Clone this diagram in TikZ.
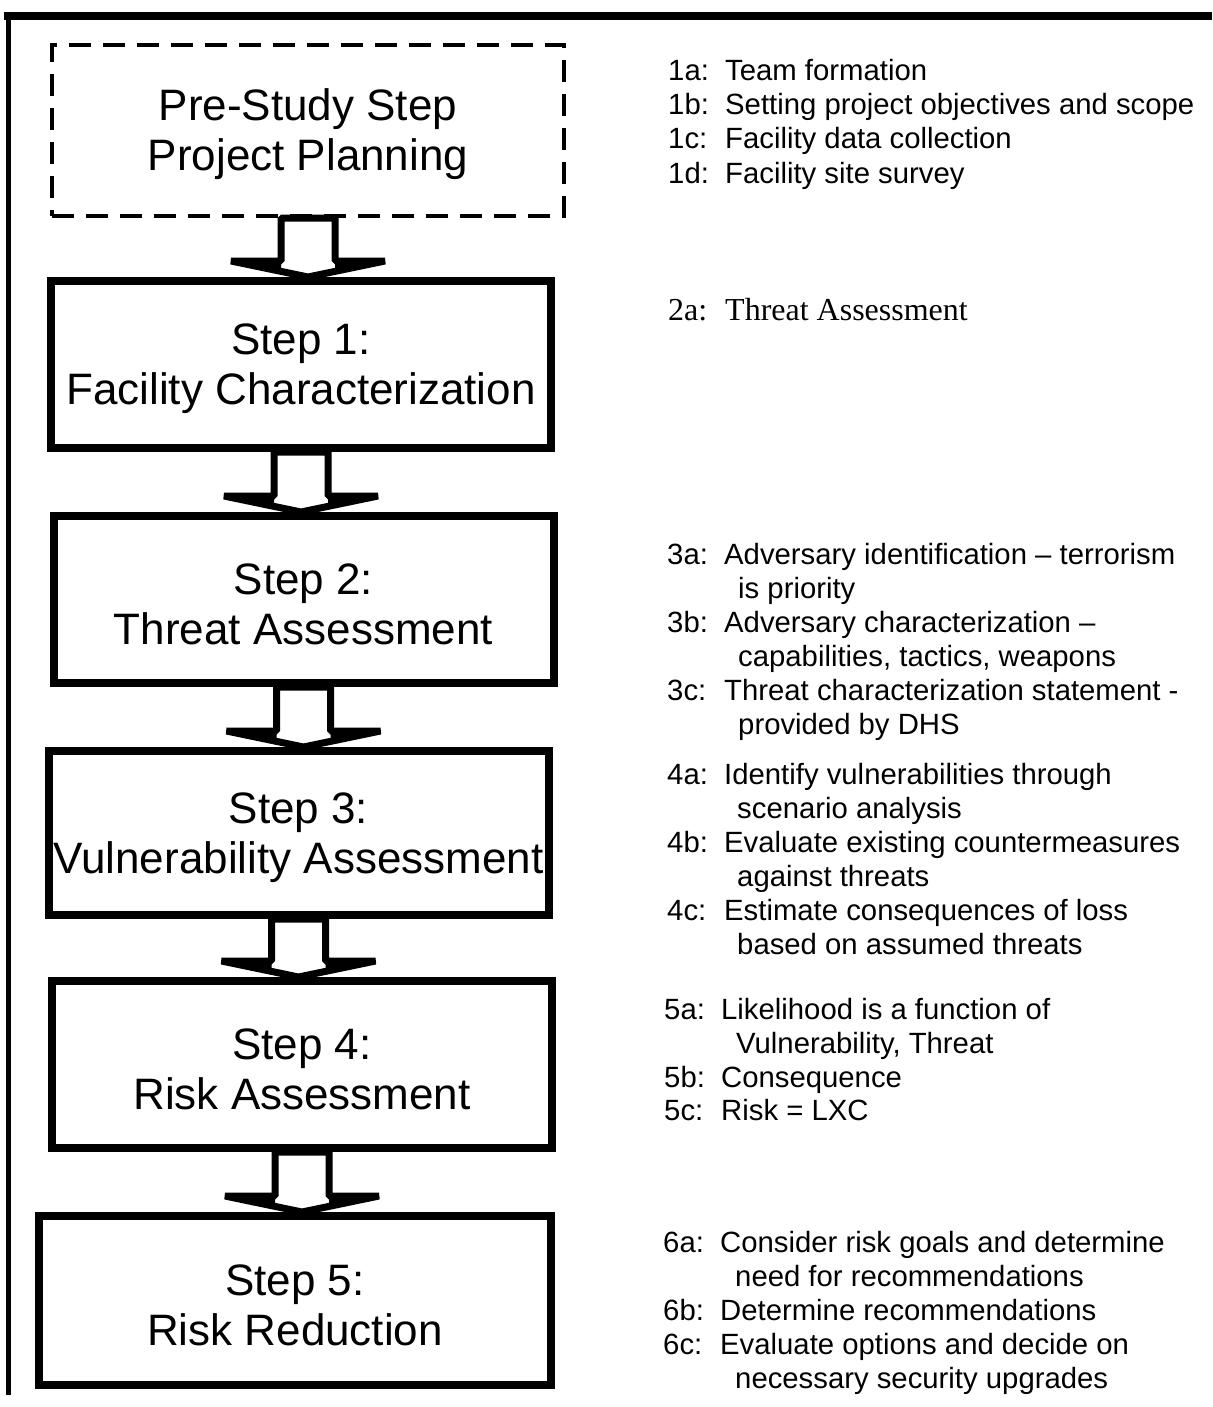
\documentclass[tikz,border=0pt]{standalone}
\usepackage{fontspec}
\setmainfont{Liberation Sans}
\newfontfamily\timesfont{Liberation Serif}
\usetikzlibrary{positioning,calc}

\tikzstyle{stepbox} = [rectangle, draw = black, line width = 8pt, minimum width = 500pt, minimum height = 167pt, inner sep = 2pt, text centered, align = center, font = \fontsize{44}{50}\selectfont]
\tikzstyle{prebox} = [stepbox, line width = 4pt, dash pattern = on 22pt off 12pt, minimum width = 512pt, minimum height = 171pt]
\tikzstyle{note} = [anchor = base west, inner sep = 0pt, font = \fontsize{29.3}{34}\selectfont]
\tikzstyle{blockarrow} = [draw = black, fill = white, line width = 7pt, line join = bevel]

\newcommand{\lbl}[1]{\makebox[57pt][l]{#1}}
\newcommand{\twolines}[2]{\rule{0pt}{40pt}#1\\#2}
\newcommand{\steparrow}[2]{%
  \draw[blockarrow] let \p1 = (#1.south), \p2 = (#2.north) in
    (\x1-27pt,\y1) -- (\x1-27pt,\y2+16pt) -- (\x1-77pt,\y2+16pt) -- (\x1,\y2)
    -- (\x1+77pt,\y2+16pt) -- (\x1+27pt,\y2+16pt) -- (\x1+27pt,\y1) -- cycle;
  \fill let \p1 = (#1.south), \p2 = (#2.north) in
    (\x1-77pt,\y2+16pt) -- (\x1-27pt,\y2+16pt) -- (\x1-27pt,\y2+6pt) -- cycle
    (\x1+77pt,\y2+16pt) -- (\x1+27pt,\y2+16pt) -- (\x1+27pt,\y2+6pt) -- cycle;}

\begin{document}
\begin{tikzpicture}[x = 1pt, y = -1pt]
    \useasboundingbox (0,0) rectangle (1212,1407);
    % frame
    \draw[line width = 8pt] (4,16) -- (1212,16);
    \draw[line width = 5pt] (8,12) -- (8,1395);

    % steps
    \node(pre)[prebox] at (308,130.5) {\twolines{Pre-Study Step}{Project Planning}};
    \node(s1)[stepbox, below = 59pt of pre, xshift = -7pt]{\twolines{Step 1:}{Facility Characterization}};
    \node(s2)[stepbox, below = 60pt of s1, xshift = 2.5pt]{\twolines{Step 2:}{Threat Assessment}};
    \node(s3)[stepbox, below = 60pt of s2, xshift = -5pt, minimum height = 164pt]{\twolines{Step 3:}{Vulnerability Assessment}};
    \node(s4)[stepbox, below = 58pt of s3, xshift = 3.5pt]{\twolines{Step 4:}{Risk Assessment}};
    \node(s5)[stepbox, below = 60pt of s4, xshift = -7pt, minimum width = 512pt, minimum height = 169pt]{\twolines{Step 5:}{Risk Reduction}};

    \steparrow{pre}{s1}
    \steparrow{s1}{s2}
    \steparrow{s2}{s3}
    \steparrow{s3}{s4}
    \steparrow{s4}{s5}

    % sub-steps
    \node(t1a)[note] at (668,81) {\lbl{1a:}Team formation};
    \node(t1b)[note] at (668,115) {\lbl{1b:}Setting project objectives and scope};
    \node(t1c)[note] at (668,149) {\lbl{1c:}Facility data collection};
    \node(t1d)[note] at (668,183) {\lbl{1d:}Facility site survey};

    \node(t2a)[note, font = \fontsize{32}{34}\selectfont\timesfont] at (668,320) {\lbl{2a:}Threat Assessment};

    \node(t3a)[note] at (667,564) {\lbl{3a:}Adversary identification – terrorism};
    \node(t3a2)[note] at (738,598) {is priority};
    \node(t3b)[note] at (667,632) {\lbl{3b:}Adversary characterization –};
    \node(t3b2)[note] at (738,666) {capabilities, tactics, weapons};
    \node(t3c)[note] at (667,700) {\lbl{3c:}Threat characterization statement -};
    \node(t3c2)[note] at (738,734) {provided by DHS};

    \node(t4a)[note] at (667,784) {\lbl{4a:}Identify vulnerabilities through};
    \node(t4a2)[note] at (737,818) {scenario analysis};
    \node(t4b)[note] at (667,852) {\lbl{4b:}Evaluate existing countermeasures};
    \node(t4b2)[note] at (737,886) {against threats};
    \node(t4c)[note] at (667,920) {\lbl{4c:}Estimate consequences of loss};
    \node(t4c2)[note] at (737,954) {based on assumed threats};

    \node(t5a)[note] at (664,1019) {\lbl{5a:}Likelihood is a function of};
    \node(t5a2)[note] at (736,1053) {Vulnerability, Threat};
    \node(t5b)[note] at (664,1087) {\lbl{5b:}Consequence};
    \node(t5c)[note] at (664,1120) {\lbl{5c:}Risk = LXC};

    \node(t6a)[note] at (663,1252) {\lbl{6a:}Consider risk goals and determine};
    \node(t6a2)[note] at (735,1286) {need for recommendations};
    \node(t6b)[note] at (663,1320) {\lbl{6b:}Determine recommendations};
    \node(t6c)[note] at (663,1354) {\lbl{6c:}Evaluate options and decide on};
    \node(t6c2)[note] at (735,1388) {necessary security upgrades};
\end{tikzpicture}
\end{document}
